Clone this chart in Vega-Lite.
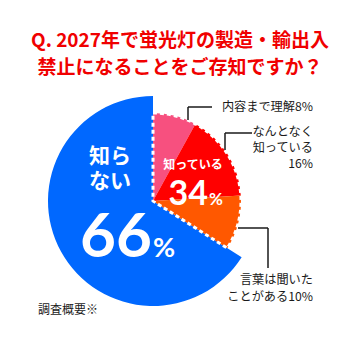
{
  "$schema": "https://vega.github.io/schema/vega-lite/v6.json",
  "autosize": {"type": "fit", "contains": "padding"},
  "width": 361,
  "height": 360,
  "padding": 0,
  "background": "white",
  "config": {"view": {"stroke": null}},
  "datasets": {
    "pie": [
      {"category": "内容まで理解", "percent": 8, "group": "known", "order": 1},
      {"category": "なんとなく知っている", "percent": 16, "group": "known", "order": 2},
      {"category": "言葉は聞いたことがある", "percent": 10, "group": "known", "order": 3},
      {"category": "知らない", "percent": 66, "group": "unknown", "order": 4}
    ],
    "groups": [
      {"group": "known", "percent": 34, "order": 1},
      {"group": "unknown", "percent": 66, "order": 2}
    ],
    "leaders": [
      {"x": 188, "y": 120, "x2": 188, "y2": 107},
      {"x": 188, "y": 107, "x2": 212, "y2": 107},
      {"x": 225, "y": 150, "x2": 225, "y2": 133},
      {"x": 225, "y": 133, "x2": 252, "y2": 133},
      {"x": 238, "y": 228, "x2": 268, "y2": 228},
      {"x": 268, "y": 228, "x2": 268, "y2": 268}
    ],
    "texts": [
      {"kind": "title", "text": "Q. 2027年で蛍光灯の製造・輸出入", "x": 180, "y": 41},
      {"kind": "title", "text": "禁止になることをご存知ですか？", "x": 180, "y": 68},
      {"kind": "label", "text": "内容まで理解8%", "x": 313, "y": 107},
      {"kind": "label", "text": "なんとなく", "x": 313, "y": 132},
      {"kind": "label", "text": "知っている", "x": 313, "y": 148},
      {"kind": "label", "text": "16%", "x": 313, "y": 164},
      {"kind": "label", "text": "言葉は聞いた", "x": 313, "y": 280},
      {"kind": "label", "text": "ことがある10%", "x": 313, "y": 297},
      {"kind": "known", "text": "知っている", "x": 193, "y": 165},
      {"kind": "num34", "text": "34", "x": 208, "y": 205},
      {"kind": "pct34", "text": "%", "x": 209, "y": 205},
      {"kind": "unknown", "text": "知ら", "x": 110, "y": 157},
      {"kind": "unknown", "text": "ない", "x": 110, "y": 182},
      {"kind": "num66", "text": "66", "x": 152, "y": 257},
      {"kind": "pct66", "text": "%", "x": 153, "y": 257},
      {"kind": "note", "text": "調査概要※", "x": 38, "y": 310}
    ]
  },
  "encoding": {
    "x": {"type": "quantitative", "scale": {"domain": [0, 361]}, "axis": null},
    "y": {"type": "quantitative", "scale": {"domain": [0, 360], "reverse": true}, "axis": null}
  },
  "layer": [
    {
      "data": {"name": "pie"},
      "transform": [
        {"stack": "percent", "sort": [{"field": "order"}], "as": ["t0", "t1"]},
        {"filter": "datum.group == 'unknown'"}
      ],
      "mark": {"type": "arc", "radius": 105},
      "encoding": {
        "theta": {"field": "t0", "type": "quantitative", "scale": {"domain": [0, 100]}},
        "theta2": {"field": "t1"},
        "x": {"datum": 153, "type": "quantitative"},
        "y": {"datum": 201, "type": "quantitative"},
        "color": {"field": "category", "type": "nominal", "scale": {"domain": ["内容まで理解", "なんとなく知っている", "言葉は聞いたことがある", "知らない"], "range": ["#f7507f", "#ff0000", "#ff5800", "#0068ff"]}, "legend": null}
      }
    },
    {
      "data": {"name": "pie"},
      "transform": [
        {"stack": "percent", "sort": [{"field": "order"}], "as": ["t0", "t1"]},
        {"filter": "datum.group == 'known'"}
      ],
      "mark": {"type": "arc", "radius": 88},
      "encoding": {
        "theta": {"field": "t0", "type": "quantitative", "scale": {"domain": [0, 100]}},
        "theta2": {"field": "t1"},
        "x": {"datum": 153, "type": "quantitative"},
        "y": {"datum": 201, "type": "quantitative"},
        "color": {"field": "category", "type": "nominal", "legend": null}
      }
    },
    {
      "data": {"name": "groups"},
      "transform": [
        {"stack": "percent", "sort": [{"field": "order"}], "as": ["t0", "t1"]},
        {"filter": "datum.group == 'known'"}
      ],
      "mark": {"type": "arc", "radius": 88, "fill": null, "filled": false, "stroke": "white", "strokeWidth": 3, "strokeDash": [4, 3]},
      "encoding": {
        "theta": {"field": "t0", "type": "quantitative", "scale": {"domain": [0, 100]}},
        "theta2": {"field": "t1"},
        "x": {"datum": 153, "type": "quantitative"},
        "y": {"datum": 201, "type": "quantitative"}
      }
    },
    {
      "data": {"name": "leaders"},
      "mark": {"type": "rule", "color": "#1a1a1a", "strokeWidth": 1.5},
      "encoding": {
        "x": {"field": "x", "type": "quantitative"},
        "y": {"field": "y", "type": "quantitative"},
        "x2": {"field": "x2"},
        "y2": {"field": "y2"}
      }
    },
    {
      "data": {"name": "texts"},
      "transform": [{"filter": "datum.kind == 'title'"}],
      "mark": {"type": "text", "font": "Noto Sans CJK JP", "fontWeight": "bold", "fontSize": 19, "color": "#f00000", "align": "center", "baseline": "middle"},
      "encoding": {"x": {"field": "x", "type": "quantitative"}, "y": {"field": "y", "type": "quantitative"}, "text": {"field": "text"}}
    },
    {
      "data": {"name": "texts"},
      "transform": [{"filter": "datum.kind == 'label'"}],
      "mark": {"type": "text", "font": "Noto Sans CJK JP", "fontSize": 12.2, "color": "#1a1a1a", "align": "right", "baseline": "middle"},
      "encoding": {"x": {"field": "x", "type": "quantitative"}, "y": {"field": "y", "type": "quantitative"}, "text": {"field": "text"}}
    },
    {
      "data": {"name": "texts"},
      "transform": [{"filter": "datum.kind == 'note'"}],
      "mark": {"type": "text", "font": "Noto Sans CJK JP", "fontSize": 12, "color": "#1a1a1a", "align": "left", "baseline": "middle"},
      "encoding": {"x": {"field": "x", "type": "quantitative"}, "y": {"field": "y", "type": "quantitative"}, "text": {"field": "text"}}
    },
    {
      "data": {"name": "texts"},
      "transform": [{"filter": "datum.kind == 'known'"}],
      "mark": {"type": "text", "font": "Noto Sans CJK JP", "fontWeight": "bold", "fontSize": 12, "color": "white", "align": "center", "baseline": "middle"},
      "encoding": {"x": {"field": "x", "type": "quantitative"}, "y": {"field": "y", "type": "quantitative"}, "text": {"field": "text"}}
    },
    {
      "data": {"name": "texts"},
      "transform": [{"filter": "datum.kind == 'unknown'"}],
      "mark": {"type": "text", "font": "Noto Sans CJK JP", "fontWeight": "bold", "fontSize": 21, "color": "white", "align": "center", "baseline": "middle"},
      "encoding": {"x": {"field": "x", "type": "quantitative"}, "y": {"field": "y", "type": "quantitative"}, "text": {"field": "text"}}
    },
    {
      "data": {"name": "texts"},
      "transform": [{"filter": "datum.kind == 'num34'"}],
      "mark": {"type": "text", "font": "Lato", "fontWeight": "bold", "fontSize": 34, "color": "white", "align": "right", "baseline": "alphabetic"},
      "encoding": {"x": {"field": "x", "type": "quantitative"}, "y": {"field": "y", "type": "quantitative"}, "text": {"field": "text"}}
    },
    {
      "data": {"name": "texts"},
      "transform": [{"filter": "datum.kind == 'pct34'"}],
      "mark": {"type": "text", "font": "Lato", "fontWeight": "bold", "fontSize": 17, "color": "white", "align": "left", "baseline": "alphabetic"},
      "encoding": {"x": {"field": "x", "type": "quantitative"}, "y": {"field": "y", "type": "quantitative"}, "text": {"field": "text"}}
    },
    {
      "data": {"name": "texts"},
      "transform": [{"filter": "datum.kind == 'num66'"}],
      "mark": {"type": "text", "font": "Lato", "fontWeight": "bold", "fontSize": 62, "color": "white", "align": "right", "baseline": "alphabetic"},
      "encoding": {"x": {"field": "x", "type": "quantitative"}, "y": {"field": "y", "type": "quantitative"}, "text": {"field": "text"}}
    },
    {
      "data": {"name": "texts"},
      "transform": [{"filter": "datum.kind == 'pct66'"}],
      "mark": {"type": "text", "font": "Lato", "fontWeight": "bold", "fontSize": 27, "color": "white", "align": "left", "baseline": "alphabetic"},
      "encoding": {"x": {"field": "x", "type": "quantitative"}, "y": {"field": "y", "type": "quantitative"}, "text": {"field": "text"}}
    }
  ]
}
